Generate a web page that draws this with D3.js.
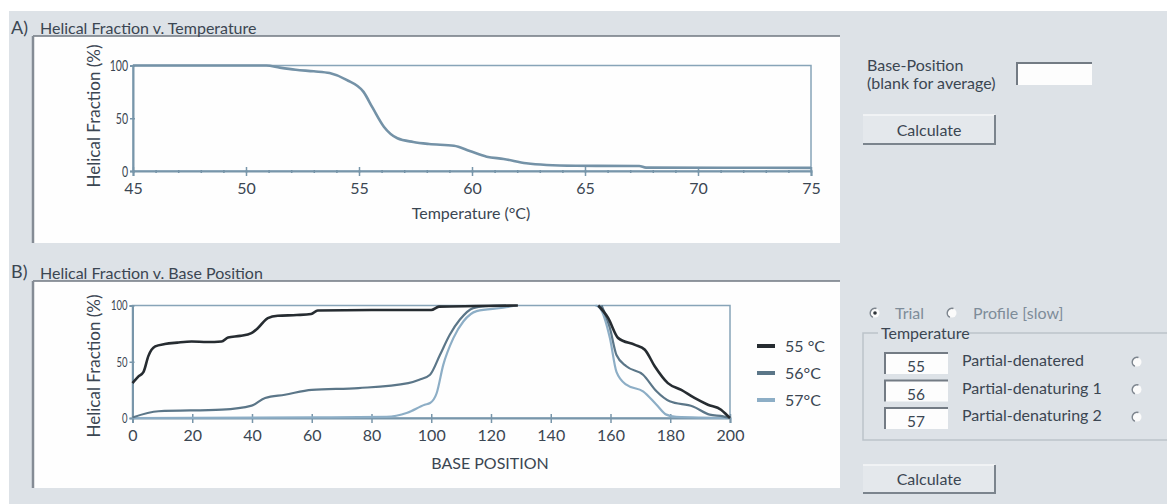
<!DOCTYPE html>
<html>
<head>
<meta charset="utf-8">
<script src="https://cdn.jsdelivr.net/npm/d3@7"></script>
<style>
  html, body { margin: 0; padding: 0; background: #fff; }
  svg text { font-family: Lato, "Noto Sans", sans-serif; fill: #3b4652; }
</style>
</head>
<body>
<div id="chart"></div>
<script>
// A) helical fraction vs temperature
const tempA = [45, 50.9, 51.5, 52.2, 53, 53.7, 54.45, 55.2, 55.6, 56.1, 56.7, 57.4, 58.1, 59.2, 59.9, 60.65, 61.4, 62.4, 63.3, 64.6, 67.4, 67.7, 75];
const fracA = [100, 100, 98, 96, 94.5, 92.8, 86.4, 75, 60, 42, 31, 27.5, 25.6, 24, 19, 13.6, 11.4, 7.3, 5.7, 5, 4.7, 3.2, 3];
const tempTicks = [45, 50, 55, 60, 65, 70, 75];

// B) helical fraction vs base position (null = not drawn)
const pos55 = [0, 2, 3.7, 5.3, 7.6, 10.8, 15, 19.8, 25, 29.8, 32, 36, 39.8, 42, 45.3, 48.6, 55, 59.8, 62, 80, 100, 102.6, 115, 129, 140, 155.9, 159.2, 162.6, 168.2, 171.5, 174.8, 179.2, 183.7, 188.1, 192.6, 197, 199.2, 200];
const frac55 = [31, 37, 41, 55, 63.6, 65.7, 67, 68, 67.5, 68, 71.6, 73, 75.5, 80, 88.8, 90.9, 91.5, 92.4, 95.6, 96, 96, 99, 99.5, 100, null, 100, 89, 71, 65, 60.7, 46, 31, 25, 17.8, 11.8, 7.4, 2, 0];
const pos56 = [0, 8.7, 29.9, 39.9, 44.4, 51, 60, 75.6, 92.3, 96, 99.6, 102.9, 106.2, 109.6, 114, 118, 125, 140, 157, 159.8, 162, 165.3, 170.9, 175.4, 179.8, 187.6, 193.2, 197.7, 200];
const frac56 = [0.5, 6, 7.4, 11, 17.8, 20.7, 25, 26.6, 31, 34, 38.5, 56, 74, 87.5, 97.7, 99.5, 100, null, 100, 80, 56, 46, 38.5, 23.7, 14.8, 10.3, 3, 1.5, 0];
const pos57 = [0, 60, 85, 92, 97.8, 99.6, 101.8, 104, 107.4, 110.8, 115.2, 124.1, 128.5, 140, 155, 156.4, 159.8, 162, 165.3, 170.9, 175.4, 178.7, 182, 200];
const frac57 = [0, 0.5, 1, 4.7, 11.8, 13.3, 22, 47, 71, 86, 95, 98, 100, null, 100, 98, 71, 41, 29.6, 23.7, 11.8, 3, 1, 0];
const posTicks = [0, 20, 40, 60, 80, 100, 120, 140, 160, 180, 200];
const fracTicks = [0, 50, 100];

const seriesNames = ['55 °C', '56°C', '57°C'];
const seriesColors = ['#262c31', '#5b7688', '#8daec6'];
const trialTemps = ['55', '56', '57'];
const trialLabels = ['Partial-denatered', 'Partial-denaturing 1', 'Partial-denaturing 2'];

const W = 1167, H = 504;
const svg = d3.select('#chart').append('svg').attr('width', W).attr('height', H);

// window background
svg.append('rect').attr('x', 9).attr('y', 11).attr('width', W - 9).attr('height', H - 11).attr('fill', '#dde2e7');

// panels
function panel(y0, y1, letter, title, ly) {
  svg.append('rect').attr('x', 33).attr('y', y0).attr('width', 807).attr('height', y1 - y0).attr('fill', '#fefefe');
  svg.append('line').attr('x1', 33).attr('x2', 840).attr('y1', y0).attr('y2', y0).attr('stroke', '#6f7780').attr('stroke-width', 1.5);
  svg.append('line').attr('x1', 33).attr('x2', 33).attr('y1', y0).attr('y2', y1).attr('stroke', '#858c95').attr('stroke-width', 2.5);
  svg.append('text').attr('x', 11).attr('y', ly).style('font-size', '18px').text(letter);
  svg.append('text').attr('x', 40).attr('y', y0 - 2.5).style('font-size', '16px').text(title);
}
panel(36, 243, 'A)', 'Helical Fraction v. Temperature', 34);
panel(281, 488, 'B)', 'Helical Fraction v. Base Position', 278);

const frameColor = '#87a4b8';

function drawAxes(x, y, xTicks, minor, yLabelScale, yFont, xLabel, xLabelX, xLabelY, yLabelCy) {
  const [x0, x1] = x.range();
  const [yb, yt] = y.range();
  svg.append('rect').attr('x', x0).attr('y', yt).attr('width', x1 - x0).attr('height', yb - yt)
    .attr('fill', 'none').attr('stroke', frameColor).attr('stroke-width', 1.5);

  if (minor) {
    const gm = svg.append('g').attr('transform', `translate(0,${yb})`)
      .call(d3.axisBottom(x).tickValues(minor).tickSize(2).tickFormat(''));
    gm.select('.domain').remove();
    gm.selectAll('line').attr('stroke', '#6f8da2').attr('y1', -1).attr('stroke-width', 1.5);
  }
  const gx = svg.append('g').attr('transform', `translate(0,${yb})`)
    .call(d3.axisBottom(x).tickValues(xTicks).tickSize(5).tickPadding(7));
  gx.select('.domain').attr('stroke', '#7896aa').attr('stroke-width', 2);
  gx.selectAll('line').attr('stroke', '#7896aa').attr('y1', -4).attr('stroke-width', 1.5);
  gx.selectAll('text').style('font-size', '16px').attr('fill', '#3b4652');

  const gy = svg.append('g').attr('transform', `translate(${x0},0)`)
    .call(d3.axisLeft(y).tickValues(fracTicks).tickSize(3).tickFormat(d3.format('d')));
  gy.select('.domain').attr('stroke', '#7896aa').attr('stroke-width', 2);
  gy.selectAll('line').attr('stroke', '#7896aa').attr('x1', 2).attr('stroke-width', 1.5);
  gy.selectAll('text').style('font-size', yFont + 'px').attr('fill', '#3b4652')
    .attr('x', -5 / yLabelScale).attr('dy', '0.32em')
    .attr('transform', `scale(${yLabelScale},1)`);

  svg.append('text').attr('x', xLabelX).attr('y', xLabelY).attr('text-anchor', 'middle')
    .style('font-size', '16px').text(xLabel);
  svg.append('text').attr('transform', `translate(100,${yLabelCy}) rotate(-90)`).attr('text-anchor', 'middle')
    .style('font-size', '17px').text('Helical Fraction (%)');
}

// ---- chart A
const xA = d3.scaleLinear().domain([45, 75]).range([133, 811]);
const yA = d3.scaleLinear().domain([0, 100]).range([171, 65.5]);
drawAxes(xA, yA, tempTicks, d3.range(45, 76, 1), 0.66, 16, 'Temperature (°C)', 471, 219, 116);
svg.append('path')
  .datum(tempA.map((t, i) => [t, fracA[i]]))
  .attr('fill', 'none').attr('stroke', '#7492a7').attr('stroke-width', 2.6)
  .attr('d', d3.line().curve(d3.curveMonotoneX).x(d => xA(d[0])).y(d => yA(d[1])));

// ---- chart B
const xB = d3.scaleLinear().domain([0, 200]).range([132.5, 730]);
const yB = d3.scaleLinear().domain([0, 100]).range([418, 305.5]);
drawAxes(xB, yB, posTicks, null, 0.68, 14, 'BASE POSITION', 490, 469, 366);

const lineB = d3.line().curve(d3.curveMonotoneX).defined(d => d[1] != null).x(d => xB(d[0])).y(d => yB(d[1]));
[[pos57, frac57], [pos56, frac56], [pos55, frac55]].forEach((s, k) => {
  const ci = 2 - k;
  svg.append('path')
    .datum(s[0].map((p, i) => [p, s[1][i]]))
    .attr('fill', 'none').attr('stroke', seriesColors[ci]).attr('stroke-width', ci === 0 ? 2.6 : 2.2)
    .attr('d', lineB);
});

// legend
const legend = svg.append('g');
seriesNames.forEach((name, i) => {
  const ly = 346 + i * 27;
  legend.append('line').attr('x1', 757).attr('x2', 775).attr('y1', ly).attr('y2', ly)
    .attr('stroke', seriesColors[i]).attr('stroke-width', 4);
  legend.append('text').attr('x', 785).attr('y', ly + 6).style('font-size', '16px').text(name);
});

// ---- controls
function inputBox(x, y, w, h) {
  svg.append('rect').attr('x', x).attr('y', y).attr('width', w).attr('height', h).attr('fill', '#fdfdfd');
  svg.append('path').attr('d', `M${x},${y + h}V${y}H${x + w}`).attr('fill', 'none')
    .attr('stroke', '#737b84').attr('stroke-width', 2);
}
function button(x, y, w, h, label) {
  svg.append('rect').attr('x', x).attr('y', y).attr('width', w).attr('height', h).attr('fill', '#e4e8ec');
  svg.append('path').attr('d', `M${x},${y}H${x + w}`).attr('stroke', '#f6f7f8').attr('stroke-width', 1.5);
  svg.append('path').attr('d', `M${x},${y + h}H${x + w}V${y}`).attr('fill', 'none')
    .attr('stroke', '#7b848d').attr('stroke-width', 2);
  svg.append('text').attr('x', x + w / 2).attr('y', y + h / 2 + 6).attr('text-anchor', 'middle')
    .style('font-size', '16px').text(label);
}
function radio(cx, cy, checked) {
  svg.append('circle').attr('cx', cx).attr('cy', cy).attr('r', 4.5).attr('fill', '#fbfbfb');
  const arc = d3.arc().innerRadius(4).outerRadius(5.5).startAngle(-Math.PI * 0.85).endAngle(Math.PI * 0.1);
  svg.append('path').attr('transform', `translate(${cx},${cy})`).attr('d', arc()).attr('fill', '#7d858e');
  if (checked) svg.append('circle').attr('cx', cx).attr('cy', cy).attr('r', 1.8).attr('fill', '#2f3439');
}

svg.append('text').attr('x', 867).attr('y', 71).style('font-size', '16px').text('Base-Position');
svg.append('text').attr('x', 867).attr('y', 89).style('font-size', '16px').text('(blank for average)');
inputBox(1017, 63, 75, 22);
button(863, 115, 132, 29, 'Calculate');

radio(875, 313, true);
svg.append('text').attr('x', 895).attr('y', 319).style('font-size', '16px').style('fill', '#7e8c99').text('Trial');
radio(952, 313, false);
svg.append('text').attr('x', 973).attr('y', 319).style('font-size', '16px').style('fill', '#7e8c99').text('Profile [slow]');

svg.append('path').attr('d', 'M878,333H863V440H1167M969,333H1167').attr('fill', 'none')
  .attr('stroke', '#bcc3ca').attr('stroke-width', 1.5);
svg.append('text').attr('x', 881).attr('y', 339).style('font-size', '16px').text('Temperature');

trialTemps.forEach((t, i) => {
  const by = 353 + i * 27.5;
  inputBox(885, by, 63, 21);
  svg.append('text').attr('x', 916).attr('y', by + 19).attr('text-anchor', 'middle').style('font-size', '15.5px').text(t);
  svg.append('text').attr('x', 962).attr('y', by + 13).style('font-size', '16px').text(trialLabels[i]);
  radio(1137, by + 9, false);
});

button(863, 465, 132, 28, 'Calculate');
</script>
</body>
</html>
